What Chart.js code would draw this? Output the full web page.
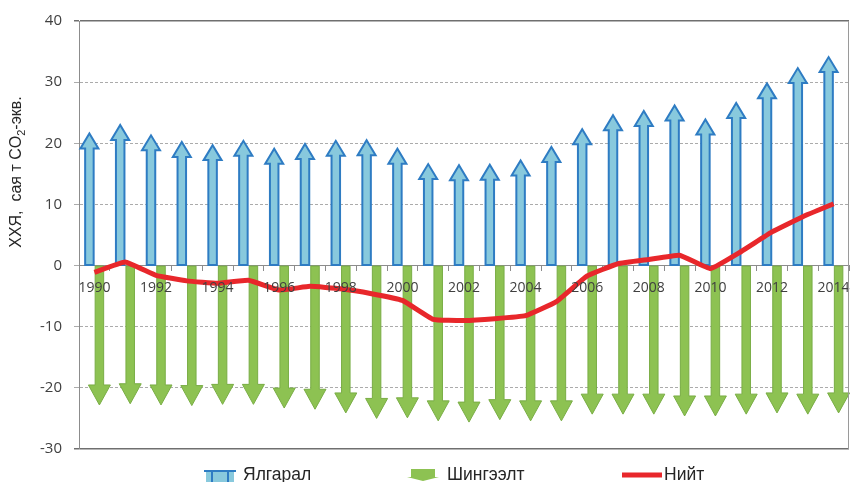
<!DOCTYPE html>
<html>
<head>
<meta charset="utf-8">
<script src="https://cdn.jsdelivr.net/npm/chart.js@4/dist/chart.umd.min.js"></script>
<style>
  html, body { margin: 0; padding: 0; background: #fff; }
  #wrap { width: 850px; height: 482px; position: relative; }
</style>
</head>
<body>
<div id="wrap"><canvas id="ghg"></canvas></div>
<script>
// ХХЯ-ын ялгарал, шингээлт ба нийт дүн, сая т CO2-экв.
const years = ["1990", "1991", "1992", "1993", "1994", "1995", "1996", "1997", "1998", "1999",
  "2000", "2001", "2002", "2003", "2004", "2005", "2006", "2007", "2008", "2009",
  "2010", "2011", "2012", "2013", "2014"];

const emissions = [21.6, 23.0, 21.3, 20.2, 19.7, 20.4, 19.1, 19.9, 20.4, 20.5,
  19.1, 16.6, 16.4, 16.5, 17.2, 19.4, 22.3, 24.6, 25.3, 26.2,
  23.9, 26.6, 29.8, 32.3, 34.1];

const removals = [-22.8, -22.6, -22.8, -22.9, -22.7, -22.7, -23.3, -23.5, -24.1, -25.0,
  -24.9, -25.4, -25.6, -25.2, -25.4, -25.4, -24.3, -24.3, -24.3, -24.6,
  -24.6, -24.3, -24.1, -24.3, -24.1];

const net = [-1.1, 0.6, -1.6, -2.5, -2.9, -2.4, -4.0, -3.4, -3.8, -4.6,
  -5.7, -8.8, -9.0, -8.7, -8.2, -5.9, -1.7, 0.3, 1.0, 1.7,
  -0.5, 2.3, 5.5, 8.0, 10.1];

const yTicks = { min: -30, max: 40, step: 10 };

const textFont = "Liberation Sans, Arial, sans-serif";

// bars are drawn as arrows pointing from zero to the value
const arrowBars = {
  id: "arrowBars",
  afterDatasetDraw(chart, args) {
    const ds = chart.data.datasets[args.index];
    if (!ds.arrow) return;
    const st = ds.arrow;
    const ctx = chart.ctx;
    ctx.save();
    ctx.fillStyle = st.fill;
    ctx.strokeStyle = st.stroke;
    ctx.lineWidth = st.lineWidth;
    ctx.lineJoin = "miter";
    args.meta.data.forEach(bar => {
      const { x, y, base, width } = bar.getProps(["x", "y", "base", "width"], true);
      const dir = y < base ? -1 : 1;
      const half = width / 2;
      const neck = y - dir * st.headLength;
      ctx.beginPath();
      ctx.moveTo(x - half, base);
      ctx.lineTo(x - half, neck);
      ctx.lineTo(x - st.headWidth / 2, neck);
      ctx.lineTo(x, y);
      ctx.lineTo(x + st.headWidth / 2, neck);
      ctx.lineTo(x + half, neck);
      ctx.lineTo(x + half, base);
      ctx.closePath();
      ctx.fill();
      ctx.stroke();
    });
    ctx.restore();
  }
};

// right edge of the plot, axis title and legend row
const decorations = {
  id: "decorations",
  afterDraw(chart) {
    const { ctx, chartArea: a } = chart;
    ctx.save();
    ctx.strokeStyle = "#9a9a9a";
    ctx.lineWidth = 1;
    ctx.beginPath();
    ctx.moveTo(a.right - 0.5, a.top);
    ctx.lineTo(a.right - 0.5, a.bottom);
    ctx.stroke();

    // y title with subscript
    const parts = [
      { t: "ХХЯ,  сая т CO", size: 16, dy: 0 },
      { t: "2", size: 11, dy: 5 },
      { t: "-экв.", size: 16, dy: 0 }
    ];
    let total = 0;
    parts.forEach(p => { ctx.font = p.size + "px " + textFont; p.w = ctx.measureText(p.t).width; total += p.w; });
    ctx.translate(17, 172);
    ctx.rotate(-Math.PI / 2);
    ctx.fillStyle = "#262626";
    ctx.textBaseline = "middle";
    ctx.textAlign = "left";
    let cx = -total / 2;
    parts.forEach(p => {
      ctx.font = p.size + "px " + textFont;
      ctx.fillText(p.t, cx, p.dy);
      cx += p.w;
    });
    ctx.restore();

    // legend
    ctx.save();
    const ly = 475;
    const blue = chart.data.datasets[1].arrow;
    ctx.fillStyle = blue.fill;
    ctx.fillRect(206, 471, 28, 11);
    ctx.strokeStyle = blue.stroke;
    ctx.lineWidth = 2;
    ctx.beginPath();
    ctx.moveTo(204, 471); ctx.lineTo(236, 471);
    ctx.moveTo(212, 471); ctx.lineTo(212, 482);
    ctx.moveTo(228, 471); ctx.lineTo(228, 482);
    ctx.stroke();

    const green = chart.data.datasets[2].arrow;
    ctx.fillStyle = green.fill;
    ctx.fillRect(411, 469, 24, 8);
    ctx.beginPath();
    ctx.moveTo(407, 477); ctx.lineTo(439, 477); ctx.lineTo(423, 481); ctx.closePath();
    ctx.fill();

    ctx.strokeStyle = chart.data.datasets[0].borderColor;
    ctx.lineWidth = 5;
    ctx.beginPath();
    ctx.moveTo(622, ly); ctx.lineTo(662, ly);
    ctx.stroke();

    ctx.fillStyle = "#262626";
    ctx.font = "17.5px " + textFont;
    ctx.textBaseline = "middle";
    ctx.textAlign = "left";
    ctx.fillText(chart.data.datasets[1].label, 243, ly);
    ctx.fillText(chart.data.datasets[2].label, 447, ly);
    ctx.fillText(chart.data.datasets[0].label, 664, ly);
    ctx.restore();
  }
};

const isFrame = v => v === yTicks.min || v === yTicks.max || v === 0;

new Chart(document.getElementById("ghg"), {
  type: "bar",
  data: {
    labels: years,
    datasets: [
      {
        type: "line",
        label: "Нийт",
        data: net,
        borderColor: "#e8272b",
        borderWidth: 5,
        pointRadius: 0,
        tension: 0.1,
        order: 0
      },
      {
        label: "Ялгарал",
        data: emissions,
        backgroundColor: "rgba(0,0,0,0)",
        borderWidth: 0,
        categoryPercentage: 0.65,
        barPercentage: 0.85,
        order: 1,
        arrow: { fill: "#88c9dd", stroke: "#2e7cc3", lineWidth: 2, headWidth: 18, headLength: 15 }
      },
      {
        label: "Шингээлт",
        data: removals,
        backgroundColor: "rgba(0,0,0,0)",
        borderWidth: 0,
        categoryPercentage: 0.65,
        barPercentage: 0.85,
        order: 1,
        arrow: { fill: "#8dc252", stroke: "#79ad45", lineWidth: 1, headWidth: 22, headLength: 20 }
      }
    ]
  },
  options: {
    responsive: true,
    maintainAspectRatio: false,
    animation: false,
    layout: { padding: { left: 0, right: 1, top: 20, bottom: 33 } },
    plugins: {
      legend: { display: false },
      tooltip: { enabled: false }
    },
    scales: {
      x: {
        position: { y: 0 },
        afterFit: s => { s.paddingLeft = 0; s.paddingRight = 0; },
        grid: { offset: true, drawOnChartArea: false, tickLength: 5, color: "#8c8c8c" },
        border: { color: "#8c8c8c" },
        ticks: {
          z: 1,
          autoSkip: false,
          maxRotation: 0,
          padding: 9,
          color: "#404040",
          font: { family: "Open Sans", size: 14 },
          callback: (v, i) => (i % 2 === 0 ? years[i] : "")
        }
      },
      y: {
        min: yTicks.min,
        max: yTicks.max,
        afterFit: s => { s.width = 79; },
        ticks: { stepSize: yTicks.step, padding: 12, color: "#404040", font: { family: "Open Sans", size: 15 } },
        grid: {
          tickLength: 5,
          color: c => (c.tick && isFrame(c.tick.value) && c.tick.value !== 0 ? "#6f6f6f" : "#ababab"),
          lineWidth: c => (c.tick && (c.tick.value === yTicks.max || c.tick.value === yTicks.min) ? 1.5 : 1)
        },
        border: {
          color: "#8c8c8c",
          dash: c => (c.tick && !isFrame(c.tick.value) ? [3, 2] : [])
        }
      }
    }
  },
  plugins: [arrowBars, decorations]
});
</script>
</body>
</html>
